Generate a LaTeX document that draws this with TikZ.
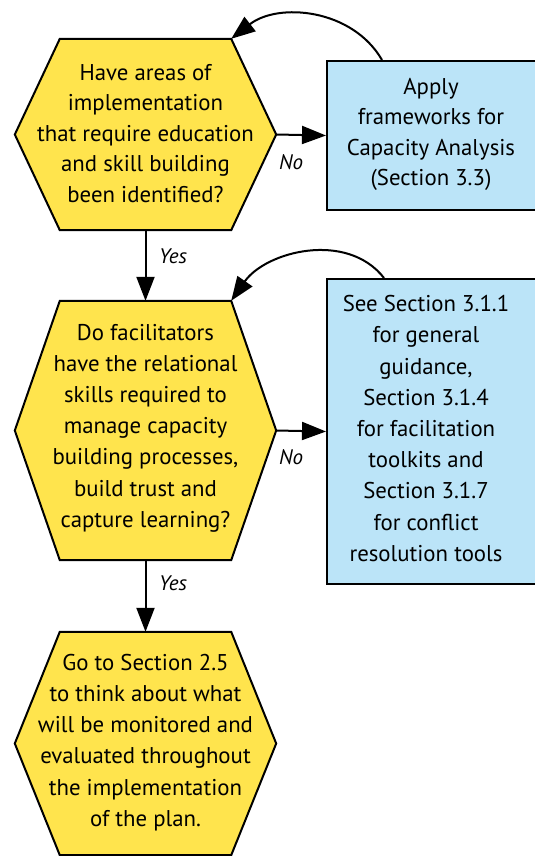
\documentclass[tikz,border=0pt]{standalone}
\usepackage{fontspec}
\setmainfont{PT Sans}
\usetikzlibrary{arrows.meta,calc,backgrounds}
\definecolor{hexyellow}{RGB}{255,228,77}
\definecolor{boxblue}{RGB}{187,228,248}
\tikzset{
  hexnode/.style={shape=rectangle, inner sep=0pt},
  hexshape/.style={fill=hexyellow, draw=black, line width=2pt, line join=miter},
  bluebox/.style={shape=rectangle, fill=boxblue, draw=black, line width=2pt, inner sep=0pt},
  txt/.style={align=center, font=\fontsize{22.8}{30.5}\selectfont, inner sep=0pt},
  txtwide/.style={align=center, font=\fontsize{22.8}{31.2}\selectfont, inner sep=0pt},
  lbl/.style={font=\fontsize{21}{24}\selectfont\itshape, inner sep=0pt},
  arrowtip/.tip={Triangle[length=24pt 0 0,width=18pt 0 0]},
  arr/.style={line width=2pt, -arrowtip},
}
\newcommand\hexdraw[1]{%
  \coordinate (#1-ne) at ($(#1.north east)+(-45,0)$);
  \coordinate (#1-nw) at ($(#1.north west)+(45,0)$);
  \coordinate (#1-se) at ($(#1.south east)+(-45,0)$);
  \coordinate (#1-sw) at ($(#1.south west)+(45,0)$);
  \begin{scope}[on background layer]
    \draw[hexshape] (#1-nw) -- (#1-ne) -- (#1.east) -- (#1-se) -- (#1-sw) -- (#1.west) -- cycle;
  \end{scope}}
\begin{document}
\begin{tikzpicture}[x=1pt,y=-1pt]
\useasboundingbox (0,0) rectangle (535,856);
\begin{scope}
\clip (0,0) rectangle (535,856);
% hexagons
\node[hexnode, minimum width=261pt, minimum height=191pt] (h1) at (145.5,134.5) {};
\node[hexnode, minimum width=261pt, minimum height=259pt] (h2) at (145.5,430.5) {};
\node[hexnode, minimum width=261pt, minimum height=223pt] (h3) at (145.5,743.5) {};
\hexdraw{h1}
\hexdraw{h2}
\hexdraw{h3}
\node[txt] (h1t) at (145.5,133.5) {Have areas of\\implementation\\that require education\\and skill building\\been identified?};
\node[txtwide] (h2t) at (145.5,428) {Do facilitators\\have the relational\\skills required to\\manage capacity\\building processes,\\build trust and\\capture learning?};
\node[txtwide] (h3t) at (145.5,742.5) {Go to Section 2.5\\to think about what\\will be monitored and\\evaluated throughout\\the implementation\\of the plan.};
% boxes
\node[bluebox, minimum width=218pt, minimum height=149pt] (b1) at (436,135.5) {};
\node[bluebox, minimum width=218pt, minimum height=305pt] (b2) at (436,431.5) {};
\node[txt] (b1t) at (431,134.5) {Apply\\frameworks for\\Capacity Analysis\\(Section 3.3)};
\node[txtwide] (b2t) at (426,428.5) {See Section 3.1.1\\for general\\guidance,\\Section 3.1.4\\for facilitation\\toolkits and\\Section 3.1.7\\for conflict\\resolution tools};
% connectors
\draw[arr] (h1.east) -- (b1.west);
\draw[arr] (h2.east) -- (b2.west);
\draw[arr] (h1.south) -- (h2.north);
\draw[arr] (h2.south) -- (h3.north);
\coordinate (b1s) at ($(b1.north)+(-54,0)$);
\coordinate (b2s) at ($(b2.north)+(-52,0)$);
\draw[arr] (b1s) to[out=120,in=38] (h1-ne);
\draw[arr] (b2s) to[out=128,in=55] (h2-ne);
% labels
\node[lbl] (no1) at (291,162) {No};
\node[lbl] (no2) at (291,457) {No};
\node[lbl, anchor=west] (yes1) at (159,256) {Yes};
\node[lbl, anchor=west] (yes2) at (159,583) {Yes};
\end{scope}
\end{tikzpicture}
\end{document}
